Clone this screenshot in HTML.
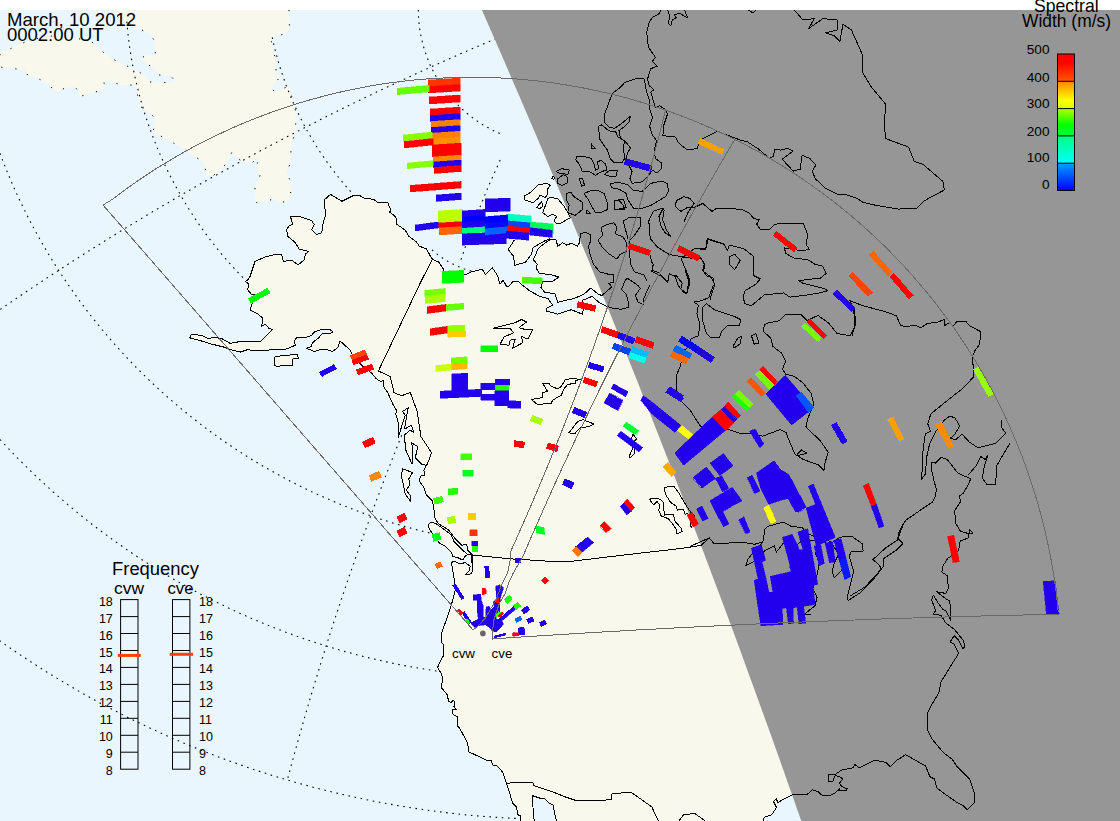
<!DOCTYPE html>
<html><head><meta charset="utf-8"><title>SuperDARN map</title>
<style>html,body{margin:0;padding:0;background:#fff;}body{width:1120px;height:821px;overflow:hidden;position:relative;font-family:"Liberation Sans",sans-serif;}svg{position:absolute;left:0;top:0;display:block;}</style></head><body>
<svg width="1120" height="821" viewBox="0 0 1120 821" style="font-family:&quot;Liberation Sans&quot;,sans-serif">
<rect x="0" y="10" width="1120" height="811" fill="#eaf6fd"/>
<polygon points="0.0,52.0 10.0,49.0 18.0,45.0 30.0,40.0 50.0,36.0 90.0,40.0 100.0,50.0 112.5,59.0 125.0,65.0 137.5,71.0 145.0,76.0 150.0,82.0 156.0,82.5 170.0,82.5 175.0,81.0 170.0,75.0 159.0,75.0 152.5,67.5 145.0,62.5 141.0,58.0 147.5,55.0 155.0,55.0 155.6,50.0 154.0,40.0 150.0,34.0 136.0,27.0 120.0,19.0 111.0,10.0 289.0,10.0 289.5,29.0 285.0,34.0 276.0,36.0 271.0,40.0 274.0,52.7 276.0,63.0 276.0,73.0 281.0,75.0 277.6,80.0 271.0,88.0 276.0,93.0 284.0,88.0 289.0,86.6 290.0,91.6 294.0,103.0 295.0,106.0 296.0,120.0 295.0,132.6 291.4,145.0 290.0,164.0 286.4,172.8 290.0,180.0 291.4,189.0 291.6,190.0 290.0,194.0 289.0,201.0 280.0,202.5 275.0,199.0 265.0,201.0 256.5,202.5 255.0,198.0 255.0,185.0 259.0,180.0 260.0,175.0 256.0,166.5 260.0,157.5 255.0,160.0 252.5,162.5 242.5,161.5 236.0,157.5 234.0,155.0 232.5,151.0 230.0,156.0 227.5,162.5 217.5,172.5 212.5,176.0 206.0,175.0 205.0,166.0 202.5,161.5 192.5,155.0 184.0,149.0 170.0,141.0 159.0,135.0 152.5,134.0 154.0,127.5 155.0,122.5 154.0,117.0 146.0,110.0 139.0,105.6 140.0,102.5 137.5,95.0 137.5,90.0 134.0,85.0 121.0,85.0 110.0,81.0 104.0,82.5 105.0,87.5 100.0,91.0 95.0,92.0 85.0,95.0 78.0,97.0 79.0,92.0 75.0,87.0 65.0,88.0 57.0,92.0 52.0,88.0 45.0,82.0 37.0,78.0 28.0,76.0 25.0,70.0 0.0,67.0" fill="#f8f8ec"/>
<polyline points="289.0,10.0 289.5,29.0 285.0,34.0 276.0,36.0 271.0,40.0 274.0,52.7 276.0,63.0 276.0,73.0 281.0,75.0 277.6,80.0 271.0,88.0 276.0,93.0 284.0,88.0 289.0,86.6 290.0,91.6 294.0,103.0 295.0,106.0 296.0,120.0 295.0,132.6 291.4,145.0 290.0,164.0 286.4,172.8 290.0,180.0 291.4,189.0 291.6,190.0 290.0,194.0 289.0,201.0 280.0,202.5 275.0,199.0 265.0,201.0 256.5,202.5 255.0,198.0 255.0,185.0 259.0,180.0 260.0,175.0 256.0,166.5 260.0,157.5 255.0,160.0 252.5,162.5 242.5,161.5 236.0,157.5 234.0,155.0 232.5,151.0 230.0,156.0 227.5,162.5 217.5,172.5 212.5,176.0 206.0,175.0 205.0,166.0 202.5,161.5 192.5,155.0 184.0,149.0 170.0,141.0 159.0,135.0 152.5,134.0 154.0,127.5 155.0,122.5 154.0,117.0 146.0,110.0 139.0,105.6 140.0,102.5 137.5,95.0 137.5,90.0 134.0,85.0 121.0,85.0 110.0,81.0 104.0,82.5 105.0,87.5 100.0,91.0 95.0,92.0 85.0,95.0 78.0,97.0 79.0,92.0 75.0,87.0 65.0,88.0 57.0,92.0 52.0,88.0 45.0,82.0 37.0,78.0 28.0,76.0 25.0,70.0 0.0,67.0 0.0,52.0 10.0,49.0 18.0,45.0 30.0,40.0 50.0,36.0 90.0,40.0 100.0,50.0 112.5,59.0 125.0,65.0 137.5,71.0 145.0,76.0 150.0,82.0 156.0,82.5 170.0,82.5 175.0,81.0 170.0,75.0 159.0,75.0 152.5,67.5 145.0,62.5 141.0,58.0 147.5,55.0 155.0,55.0 155.6,50.0 154.0,40.0 150.0,34.0 136.0,27.0 120.0,19.0 111.0,10.0" fill="none" stroke="#000" stroke-width="1" stroke-dasharray="1.2,13"/>
<g fill="none" stroke="#000" stroke-width="1.1" stroke-dasharray="1.6,4.6">
<polyline points="126.8,21.6 127.3,26.6 127.7,31.5 128.3,36.5 128.9,41.4 129.5,46.4 130.3,51.3 131.0,56.2 131.9,61.1 132.8,66.0 133.7,70.9 134.8,75.8 135.8,80.6 137.0,85.5 138.2,90.3 139.4,95.1 140.7,99.9 142.1,104.7 143.5,109.5 145.0,114.3 146.5,119.0 148.1,123.7 149.8,128.4 151.5,133.1 153.2,137.7 155.1,142.4 156.9,147.0 158.9,151.6 160.8,156.1 162.9,160.7 165.0,165.2 167.1,169.7 169.3,174.2 171.6,178.6 173.9,183.0 176.3,187.4 178.7,191.8 181.1,196.1 183.7,200.4 186.2,204.6 188.8,208.9 191.5,213.1 194.2,217.2 197.0,221.4 199.8,225.5 202.7,229.6 205.6,233.6 208.6,237.6 211.6,241.6 214.7,245.5 217.8,249.4 220.9,253.2 224.1,257.0 227.4,260.8 230.7,264.5 234.0,268.2 237.4,271.9 240.8,275.5 244.3,279.1 247.8,282.6"/>
<polyline points="-0.1,153.3 3.6,162.8 7.4,172.3 11.3,181.6 15.4,190.9 19.7,200.2 24.1,209.3 28.7,218.4 33.4,227.4 38.2,236.3 43.3,245.2 48.4,253.9 53.7,262.6 59.2,271.2 64.8,279.7 70.5,288.1 76.4,296.4 82.4,304.6 88.5,312.7 94.8,320.7 101.2,328.6 107.8,336.4 114.4,344.0 121.3,351.6 128.2,359.0 135.2,366.4 142.4,373.6 149.7,380.7 157.1,387.6 164.6,394.5 172.3,401.2 180.0,407.8 187.9,414.2 195.8,420.5 203.9,426.7 212.1,432.8 220.3,438.7 228.7,444.5 237.2,450.1 245.7,455.6 254.4,461.0 263.1,466.2 271.9,471.2 280.8,476.1 289.8,480.9 298.9,485.5 308.0,490.0 317.2,494.3 326.5,498.4 335.9,502.4 345.3,506.3 354.7,509.9 364.3,513.5 373.9,516.8 383.5,520.0 393.2,523.1 403.0,525.9 412.8,528.7 422.6,531.2 432.5,533.6"/>
<polyline points="0.3,309.4 8.2,304.0 16.1,298.6 24.1,293.2 32.0,287.9 40.0,282.6 48.0,277.3 56.0,272.1 64.1,266.8 72.1,261.6 80.2,256.5 88.3,251.3 96.4,246.2 104.5,241.1 112.7,236.1 120.8,231.0 129.0,226.0 137.2,221.1 145.4,216.1 153.6,211.2 161.9,206.3 170.2,201.5 178.4,196.6 186.7,191.8 195.1,187.1 203.4,182.3 211.7,177.6 220.1,172.9 228.5,168.3 236.9,163.6 245.3,159.1 253.7,154.5 262.2,149.9 270.6,145.4 279.1,141.0 287.6,136.5 296.1,132.1 304.6,127.7 313.2,123.3 321.7,119.0 330.3,114.7 338.9,110.4 347.5,106.2 356.1,102.0 364.7,97.8 373.3,93.7 382.0,89.5 390.7,85.5 399.4,81.4 408.1,77.4 416.8,73.4 425.5,69.4 434.2,65.5 443.0,61.6 451.8,57.7 460.5,53.8 469.3,50.0 478.1,46.2 487.0,42.5 495.8,38.7"/>
<polyline points="-0.0,439.5 5.8,445.8 11.7,452.0 17.6,458.1 23.7,464.2 29.8,470.2 35.9,476.1 42.2,481.9 48.5,487.7 54.8,493.4 61.3,499.0 67.8,504.6 74.3,510.1 81.0,515.5 87.6,520.8 94.4,526.1 101.2,531.2 108.1,536.3 115.0,541.3 122.0,546.3 129.0,551.1 136.1,555.9 143.3,560.6 150.5,565.2 157.7,569.7 165.0,574.1 172.4,578.5 179.8,582.7 187.3,586.9 194.8,591.0 202.3,595.0 209.9,598.9 217.6,602.7 225.3,606.5 233.0,610.1 240.8,613.7 248.6,617.1 256.4,620.5 264.3,623.8 272.2,627.0 280.2,630.1 288.2,633.1 296.2,636.0 304.3,638.9 312.4,641.6 320.6,644.2 328.7,646.8 336.9,649.2 345.1,651.6 353.4,653.8 361.6,656.0 369.9,658.1 378.3,660.0 386.6,661.9 395.0,663.7 403.3,665.4 411.7,666.9 420.2,668.4 428.6,669.8 437.0,671.1"/>
<polyline points="-0.5,640.6 7.2,646.0 15.0,651.3 22.9,656.6 30.8,661.8 38.7,666.9 46.7,672.0 54.8,676.9 62.9,681.8 71.0,686.6 79.2,691.4 87.4,696.0 95.7,700.6 104.0,705.1 112.4,709.5 120.8,713.8 129.3,718.1 137.8,722.2 146.3,726.3 154.9,730.3 163.5,734.2 172.1,738.1 180.8,741.8 189.5,745.5 198.3,749.0 207.1,752.5 215.9,755.9 224.8,759.3 233.7,762.5 242.6,765.6 251.5,768.7 260.5,771.7 269.5,774.6 278.5,777.3 287.6,780.1 296.7,782.7 305.8,785.2 314.9,787.7 324.1,790.0 333.3,792.3 342.5,794.5 351.7,796.5 361.0,798.5 370.2,800.5 379.5,802.3 388.8,804.0 398.1,805.6 407.5,807.2 416.8,808.6 426.2,810.0 435.5,811.3 444.9,812.5 454.3,813.6 463.7,814.6 473.1,815.5 482.6,816.3 492.0,817.0 501.4,817.7 510.9,818.2 520.3,818.6"/>
<polyline points="401.7,435.3 399.4,441.0 397.1,446.7 394.9,452.4 392.6,458.1 390.4,463.9 388.2,469.6 385.9,475.3 383.7,481.1 381.6,486.8 379.4,492.6 377.2,498.3 375.1,504.1 372.9,509.8 370.8,515.6 368.7,521.4 366.6,527.1 364.5,532.9 362.4,538.7 360.3,544.5 358.3,550.3 356.2,556.1 354.2,561.9 352.2,567.7 350.1,573.5 348.1,579.3 346.2,585.1 344.2,590.9 342.2,596.7 340.3,602.6 338.3,608.4 336.4,614.2 334.5,620.1 332.6,625.9 330.7,631.8 328.8,637.6 327.0,643.5 325.1,649.3 323.3,655.2 321.5,661.1 319.7,666.9 317.9,672.8 316.1,678.7 314.3,684.6 312.5,690.5 310.8,696.4 309.0,702.3 307.3,708.2 305.6,714.1 303.9,720.0 302.2,725.9 300.5,731.8 298.9,737.7 297.2,743.6 295.6,749.5 293.9,755.5 292.3,761.4 290.7,767.3 289.1,773.3 287.5,779.2"/>
<polyline points="272.2,37.3 272.9,40.3 273.5,43.2 274.2,46.2 274.9,49.1 275.7,52.0 276.5,55.0 277.3,57.9 278.1,60.8 278.9,63.7 279.8,66.6 280.7,69.5 281.7,72.3 282.6,75.2 283.6,78.1 284.6,80.9 285.6,83.7 286.7,86.6 287.8,89.4 288.9,92.2 290.0,95.0 291.2,97.8 292.4,100.6 293.6,103.3 294.8,106.1 296.1,108.8 297.4,111.6 298.7,114.3 300.0,117.0 301.4,119.7 302.7,122.4 304.1,125.1 305.6,127.7 307.0,130.4 308.5,133.0 310.0,135.6 311.5,138.2 313.1,140.8 314.7,143.4 316.3,146.0 317.9,148.5 319.5,151.1 321.2,153.6 322.9,156.1 324.6,158.6 326.3,161.1 328.1,163.5 329.8,166.0 331.6,168.4 333.5,170.8 335.3,173.2 337.2,175.6 339.0,178.0 340.9,180.3 342.9,182.6 344.8,184.9 346.8,187.2 348.8,189.5 350.8,191.8 352.8,194.0"/>
<polyline points="418.3,10.0 418.3,12.6 418.4,15.3 418.6,17.9 418.8,20.6 419.0,23.2 419.3,25.9 419.6,28.5 420.0,31.1 420.5,33.7 421.0,36.3 421.6,38.9 422.2,41.5 422.8,44.1 423.5,46.6 424.3,49.2 425.1,51.7 425.9,54.2 426.8,56.7 427.8,59.2 428.8,61.7 429.8,64.1 430.9,66.5 432.1,68.9 433.3,71.3 434.5,73.6 435.8,75.9 437.1,78.2 438.5,80.5 439.9,82.8 441.4,85.0 442.9,87.2 444.4,89.3 446.0,91.4 447.6,93.5 449.3,95.6 451.0,97.6 452.7,99.6 454.5,101.6 456.4,103.5 458.2,105.4 460.1,107.2 462.1,109.0 464.0,110.8 466.0,112.6 468.1,114.3 470.1,115.9 472.2,117.5 474.4,119.1 476.5,120.6 478.7,122.1 481.0,123.6 483.2,125.0 485.5,126.3 487.8,127.6 490.1,128.9 492.5,130.1 494.9,131.3 497.3,132.4 499.7,133.5"/>
<polyline points="500.2,160.1 499.4,161.8 498.6,163.5 497.9,165.2 497.1,166.9 496.3,168.6 495.5,170.3 494.8,172.0 494.0,173.7 493.2,175.5 492.5,177.2 491.7,178.9 491.0,180.6 490.2,182.3 489.5,184.0 488.8,185.8 488.0,187.5 487.3,189.2 486.6,190.9 485.9,192.7 485.1,194.4 484.4,196.1 483.7,197.9 483.0,199.6 482.3,201.3 481.6,203.1 480.9,204.8 480.2,206.6 479.5,208.3 478.8,210.0 478.2,211.8 477.5,213.5 476.8,215.3 476.1,217.0 475.5,218.8 474.8,220.5 474.1,222.3 473.5,224.0 472.8,225.8 472.2,227.6 471.5,229.3 470.9,231.1 470.3,232.8 469.6,234.6 469.0,236.4 468.4,238.1 467.7,239.9 467.1,241.7 466.5,243.4 465.9,245.2 465.3,247.0 464.7,248.8 464.1,250.5 463.5,252.3 462.9,254.1 462.3,255.9 461.7,257.6 461.1,259.4 460.6,261.2 460.0,263.0"/>
<polyline points="432.0,249.9 432.7,250.5 433.4,251.1 434.1,251.7 434.8,252.3 435.5,252.9 436.2,253.4 436.9,254.0 437.7,254.6 438.4,255.1 439.2,255.6 439.9,256.2 440.7,256.7 441.4,257.2 442.2,257.8 442.9,258.3 443.7,258.8 444.5,259.3 445.3,259.8 446.1,260.2 446.8,260.7 447.6,261.2 448.4,261.6 449.2,262.1 450.0,262.5 450.9,263.0 451.7,263.4 452.5,263.8 453.3,264.2 454.1,264.6 455.0,265.0 455.8,265.4 456.6,265.8 457.5,266.2 458.3,266.6 459.2,266.9 460.0,267.3 460.9,267.6 461.7,267.9 462.6,268.3 463.5,268.6 464.3,268.9 465.2,269.2 466.1,269.5 466.9,269.8 467.8,270.1 468.7,270.3 469.6,270.6 470.5,270.9 471.4,271.1 472.2,271.4 473.1,271.6 474.0,271.8 474.9,272.0 475.8,272.2 476.7,272.4 477.6,272.6 478.5,272.8 479.4,273.0 480.3,273.1"/>
</g>
<g fill="#f8f8ec" stroke="none">
<polygon points="650.0,285.6 647.1,290.5 643.1,300.4 643.1,304.3 638.2,302.3 635.3,295.5 640.2,288.6 638.2,285.6 627.4,278.3 625.5,279.7 621.5,289.6 626.4,294.5 628.4,302.3 628.4,307.2 621.5,309.2 614.7,308.7 606.8,306.3 598.9,302.3 592.1,296.4 582.2,300.4 583.2,310.2 582.2,314.1 571.4,309.7 557.7,314.1 546.9,311.2 546.9,308.2 552.8,305.3 547.9,298.4 540.0,296.4 530.3,291.3 521.8,284.6 518.5,281.8 513.0,281.3 508.6,286.8 506.4,286.2 503.2,280.2 499.9,284.0 497.7,275.8 492.2,267.6 485.6,274.7 482.3,269.2 471.4,272.0 463.7,275.3 444.0,271.4 442.9,268.2 438.5,261.6 436.6,261.6 431.6,258.4 426.6,249.0 419.0,246.0 416.6,242.0 409.0,236.5 405.3,230.2 396.5,224.0 395.9,217.0 389.6,212.0 390.9,210.0 387.7,202.6 377.7,202.6 374.0,199.5 364.0,198.0 360.0,195.7 353.2,195.7 342.0,201.3 330.5,194.4 324.2,200.0 325.5,215.0 323.0,224.0 321.7,232.7 316.7,234.5 311.7,230.0 314.2,224.5 311.7,220.7 299.0,216.3 290.3,216.3 292.8,224.0 289.0,225.8 286.6,230.0 287.8,236.4 295.4,242.7 299.0,249.0 309.0,251.5 305.4,254.0 304.0,260.0 298.0,265.0 291.6,260.0 283.4,261.5 281.6,254.6 275.0,254.6 265.0,257.0 255.0,261.5 250.0,276.6 247.7,280.0 245.2,281.3 248.4,283.8 247.8,290.0 251.5,294.4 255.3,295.0 251.5,305.0 250.3,310.0 257.8,313.9 262.8,318.3 261.6,326.4 265.3,324.0 269.0,328.3 272.2,329.6 260.3,341.5 250.3,342.0 240.2,341.5 230.2,343.4 221.4,338.3 215.1,337.7 207.6,338.3 201.3,335.2 191.3,334.6 189.4,337.7 198.8,340.2 211.4,344.0 223.9,347.1 232.7,350.3 240.2,352.1 247.8,349.6 255.3,350.9 265.3,350.9 270.3,349.6 286.6,349.0 295.4,345.2 294.2,340.9 296.7,337.7 305.5,337.7 311.7,335.2 314.3,332.0 320.0,330.0 322.5,329.6 330.0,329.6 333.2,332.0 328.8,334.0 322.5,333.3 318.8,337.7 312.5,342.7 311.1,346.5 306.7,348.4 314.3,351.5 317.5,350.3 325.0,349.0 332.6,351.5 337.6,347.8 340.1,340.9 347.6,347.8 350.2,350.3 352.7,355.3 358.0,362.0 365.0,368.0 371.5,372.9 376.4,378.8 380.1,381.3 383.9,380.7 383.3,386.3 387.7,392.6 392.7,403.9 396.5,410.2 395.8,413.9 398.3,422.7 398.3,437.8 402.7,422.7 405.2,415.2 402.7,411.4 408.4,407.6 406.5,416.4 404.6,429.0 411.5,425.2 414.0,432.7 410.3,430.2 404.0,435.2 404.6,439.0 405.9,450.3 412.1,464.1 412.8,447.8 411.5,442.8 417.8,446.5 415.3,457.8 421.6,464.1 426.6,465.4 428.9,460.0 426.4,465.0 423.9,470.0 424.5,475.1 420.2,476.3 419.5,481.3 423.9,487.6 426.4,495.1 432.7,501.4 434.0,510.2 435.2,519.0 439.0,524.0 449.0,530.3 455.3,539.0 461.6,545.3 466.6,544.0 467.8,550.3 470.3,552.8 472.8,555.4 472.1,563.8 472.8,568.9 471.5,573.9 465.2,574.5 469.0,571.4 470.3,566.3 465.2,562.6 460.2,563.8 454.0,561.3 451.4,562.6 452.7,570.0 454.0,577.6 455.2,590.2 452.7,600.2 448.9,612.8 443.9,626.6 441.4,634.1 442.0,643.0 443.9,645.0 443.9,655.1 440.2,661.3 437.6,667.6 441.4,673.9 442.7,677.6 441.4,687.7 447.7,695.2 448.3,701.5 451.4,702.7 452.7,700.2 454.6,701.5 454.0,706.5 456.5,709.6 452.7,709.0 452.7,714.0 457.7,717.2 457.1,725.3 460.2,729.1 467.6,743.1 468.9,751.9 487.7,760.7 491.4,760.7 492.7,765.0 496.5,765.7 502.7,772.0 506.5,783.2 512.8,803.3 516.5,807.1 517.8,814.6 520.3,815.9 520.3,821.0 534.7,821.0 533.5,817.1 532.8,803.3 532.8,795.8 540.4,798.3 544.1,798.3 549.2,803.3 552.9,804.6 555.4,817.1 556.7,821.0 763.0,821.0 764.4,817.2 771.7,814.8 776.5,807.5 773.5,801.4 776.5,799.0 777.8,802.6 783.8,799.0 792.4,794.7 796.0,794.0 807.6,794.0 812.5,789.8 818.0,791.6 822.8,795.9 828.9,795.9 835.0,792.9 840.0,788.6 900.0,821.0 900.0,300.0 620.0,300.0"/>
<polygon points="274.1,357.2 282.9,355.3 297.3,354.7 298.6,358.4 292.9,359.0 292.3,365.3 282.9,365.3 277.9,366.6 274.1,365.3"/>
<polygon points="402.6,468.8 412.6,472.5 408.9,478.8 409.5,485.0 406.3,490.1 410.1,495.1 410.7,501.4 405.1,493.9 403.8,486.3 401.3,476.3"/>
<polygon points="428.9,524.0 431.4,522.1 436.5,524.0 447.8,532.1 451.5,535.3 454.0,541.6 462.8,550.3 467.8,554.4 465.2,556.3 462.7,560.0 457.7,557.6 452.7,556.3 451.4,552.5 445.2,546.3 439.5,543.1 435.2,537.8 430.2,530.3 428.3,526.5"/>
<polygon points="524.0,196.4 530.3,192.6 537.8,185.1 546.6,183.2 550.3,185.1 547.8,188.9 547.8,193.9 545.3,197.6 540.3,195.1 537.8,198.9 532.8,202.7 525.2,200.2"/>
<polygon points="536.5,207.7 541.6,201.4 542.8,206.4 540.3,208.3"/>
<polygon points="542.8,212.7 547.8,198.9 550.3,197.0 557.9,198.9 564.1,206.4 567.9,212.7 570.4,217.7 559.1,224.0 555.4,222.7 554.1,220.2 556.6,216.5 552.8,214.0 547.8,216.5"/>
<polygon points="514.6,239.7 508.2,249.6 513.6,256.4 514.6,265.3 525.4,262.3 531.3,254.5 533.2,247.6 545.0,240.7 549.9,238.8 545.0,234.0 520.0,234.0"/>
<polygon points="549.9,239.7 555.8,239.7 557.8,246.1 562.7,242.7 566.6,245.1 571.5,243.2 577.4,246.1 579.4,242.7 610.0,250.0 620.0,265.0 613.7,274.8 613.2,282.2 608.8,283.2 611.7,286.6 608.8,289.6 601.9,295.5 598.9,294.5 590.6,288.1 584.2,294.0 574.4,298.4 565.5,300.4 557.7,302.3 554.7,293.5 544.9,292.5 541.0,287.6 543.0,281.0 552.9,281.0 558.8,277.1 552.9,275.1 539.1,273.1 536.2,268.2 537.2,264.3 533.2,259.4 536.2,253.5 538.1,248.6 543.0,244.6"/>
</g>
<polygon points="481.9,10.0 491.0,30.8 500.1,51.6 509.1,72.4 518.1,93.2 527.0,114.0 535.9,134.8 544.7,155.6 553.5,176.4 562.2,197.2 570.9,217.9 579.5,238.7 588.1,259.5 596.6,280.3 605.1,301.1 613.5,321.9 621.9,342.7 630.2,363.5 638.5,384.3 646.7,405.1 654.9,425.9 663.0,446.7 671.1,467.5 679.1,488.3 687.1,509.1 695.1,529.9 703.0,550.7 710.8,571.5 718.6,592.3 726.4,613.1 734.1,633.8 741.7,654.6 749.3,675.4 756.9,696.2 764.4,717.0 771.9,737.8 779.3,758.6 786.7,779.4 794.0,800.2 801.3,821.0 1120.0,821.0 1120.0,10.0" fill="#969696"/>
<g fill="none" stroke="#000" stroke-width="1" stroke-linejoin="round" shape-rendering="crispEdges">
<polyline points="650.0,285.6 647.1,290.5 643.1,300.4 643.1,304.3 638.2,302.3 635.3,295.5 640.2,288.6 638.2,285.6 627.4,278.3 625.5,279.7 621.5,289.6 626.4,294.5 628.4,302.3 628.4,307.2 621.5,309.2 614.7,308.7 606.8,306.3 598.9,302.3 592.1,296.4 582.2,300.4 583.2,310.2 582.2,314.1 571.4,309.7 557.7,314.1 546.9,311.2 546.9,308.2 552.8,305.3 547.9,298.4 540.0,296.4 530.3,291.3 521.8,284.6 518.5,281.8 513.0,281.3 508.6,286.8 506.4,286.2 503.2,280.2 499.9,284.0 497.7,275.8 492.2,267.6 485.6,274.7 482.3,269.2 471.4,272.0 463.7,275.3 444.0,271.4 442.9,268.2 438.5,261.6 436.6,261.6 431.6,258.4 426.6,249.0 419.0,246.0 416.6,242.0 409.0,236.5 405.3,230.2 396.5,224.0 395.9,217.0 389.6,212.0 390.9,210.0 387.7,202.6 377.7,202.6 374.0,199.5 364.0,198.0 360.0,195.7 353.2,195.7 342.0,201.3 330.5,194.4 324.2,200.0 325.5,215.0 323.0,224.0 321.7,232.7 316.7,234.5 311.7,230.0 314.2,224.5 311.7,220.7 299.0,216.3 290.3,216.3 292.8,224.0 289.0,225.8 286.6,230.0 287.8,236.4 295.4,242.7 299.0,249.0 309.0,251.5 305.4,254.0 304.0,260.0 298.0,265.0 291.6,260.0 283.4,261.5 281.6,254.6 275.0,254.6 265.0,257.0 255.0,261.5 250.0,276.6 247.7,280.0 245.2,281.3 248.4,283.8 247.8,290.0 251.5,294.4 255.3,295.0 251.5,305.0 250.3,310.0 257.8,313.9 262.8,318.3 261.6,326.4 265.3,324.0 269.0,328.3 272.2,329.6 260.3,341.5 250.3,342.0 240.2,341.5 230.2,343.4 221.4,338.3 215.1,337.7 207.6,338.3 201.3,335.2 191.3,334.6 189.4,337.7 198.8,340.2 211.4,344.0 223.9,347.1 232.7,350.3 240.2,352.1 247.8,349.6 255.3,350.9 265.3,350.9 270.3,349.6 286.6,349.0 295.4,345.2 294.2,340.9 296.7,337.7 305.5,337.7 311.7,335.2 314.3,332.0 320.0,330.0 322.5,329.6 330.0,329.6 333.2,332.0 328.8,334.0 322.5,333.3 318.8,337.7 312.5,342.7 311.1,346.5 306.7,348.4 314.3,351.5 317.5,350.3 325.0,349.0 332.6,351.5 337.6,347.8 340.1,340.9 347.6,347.8 350.2,350.3 352.7,355.3 358.0,362.0 365.0,368.0 371.5,372.9 376.4,378.8 380.1,381.3 383.9,380.7 383.3,386.3 387.7,392.6 392.7,403.9 396.5,410.2 395.8,413.9 398.3,422.7 398.3,437.8 402.7,422.7 405.2,415.2 402.7,411.4 408.4,407.6 406.5,416.4 404.6,429.0 411.5,425.2 414.0,432.7 410.3,430.2 404.0,435.2 404.6,439.0 405.9,450.3 412.1,464.1 412.8,447.8 411.5,442.8 417.8,446.5 415.3,457.8 421.6,464.1 426.6,465.4 428.9,460.0 426.4,465.0 423.9,470.0 424.5,475.1 420.2,476.3 419.5,481.3 423.9,487.6 426.4,495.1 432.7,501.4 434.0,510.2 435.2,519.0 439.0,524.0 449.0,530.3 455.3,539.0 461.6,545.3 466.6,544.0 467.8,550.3 470.3,552.8 472.8,555.4 472.1,563.8 472.8,568.9 471.5,573.9 465.2,574.5 469.0,571.4 470.3,566.3 465.2,562.6 460.2,563.8 454.0,561.3 451.4,562.6 452.7,570.0 454.0,577.6 455.2,590.2 452.7,600.2 448.9,612.8 443.9,626.6 441.4,634.1 442.0,643.0 443.9,645.0 443.9,655.1 440.2,661.3 437.6,667.6 441.4,673.9 442.7,677.6 441.4,687.7 447.7,695.2 448.3,701.5 451.4,702.7 452.7,700.2 454.6,701.5 454.0,706.5 456.5,709.6 452.7,709.0 452.7,714.0 457.7,717.2 457.1,725.3 460.2,729.1 467.6,743.1 468.9,751.9 487.7,760.7 491.4,760.7 492.7,765.0 496.5,765.7 502.7,772.0 506.5,783.2 512.8,803.3 516.5,807.1 517.8,814.6 520.3,815.9 520.3,821.0"/>
<polyline points="534.7,821.0 533.5,817.1 532.8,803.3 532.8,795.8 540.4,798.3 544.1,798.3 549.2,803.3 552.9,804.6 555.4,817.1 556.7,821.0"/>
<polyline points="763.0,821.0 764.4,817.2 771.7,814.8 776.5,807.5 773.5,801.4 776.5,799.0 777.8,802.6 783.8,799.0 792.4,794.7 796.0,794.0 807.6,794.0 812.5,789.8 818.0,791.6 822.8,795.9 828.9,795.9 835.0,792.9 840.0,788.6"/>
<polygon points="274.1,357.2 282.9,355.3 297.3,354.7 298.6,358.4 292.9,359.0 292.3,365.3 282.9,365.3 277.9,366.6 274.1,365.3"/>
<polygon points="402.6,468.8 412.6,472.5 408.9,478.8 409.5,485.0 406.3,490.1 410.1,495.1 410.7,501.4 405.1,493.9 403.8,486.3 401.3,476.3"/>
<polygon points="428.9,524.0 431.4,522.1 436.5,524.0 447.8,532.1 451.5,535.3 454.0,541.6 462.8,550.3 467.8,554.4 465.2,556.3 462.7,560.0 457.7,557.6 452.7,556.3 451.4,552.5 445.2,546.3 439.5,543.1 435.2,537.8 430.2,530.3 428.3,526.5"/>
<polygon points="524.0,196.4 530.3,192.6 537.8,185.1 546.6,183.2 550.3,185.1 547.8,188.9 547.8,193.9 545.3,197.6 540.3,195.1 537.8,198.9 532.8,202.7 525.2,200.2"/>
<polygon points="536.5,207.7 541.6,201.4 542.8,206.4 540.3,208.3"/>
<polygon points="493.2,328.3 515.2,322.6 521.5,319.5 526.5,322.0 519.0,327.7 525.2,329.5 532.8,329.5 527.8,339.0 521.5,336.4 522.7,342.7 512.7,348.4 515.2,339.0 510.2,340.2 508.9,345.2 500.2,344.0 503.9,337.0 514.0,332.7 510.2,328.9"/>
<polygon points="531.3,399.5 537.5,404.5 551.3,403.3 552.6,400.2 561.4,395.1 563.9,388.9 567.6,384.5 575.2,383.2 575.8,380.7 580.2,379.4 571.4,378.2 565.1,380.1 561.4,386.3 557.6,388.9 551.3,386.3 548.8,383.2 542.5,383.2 547.6,391.4 542.5,392.6 542.5,397.6"/>
<polygon points="568.9,432.8 572.7,427.8 577.7,421.5 582.7,419.6 594.0,424.0 589.0,426.5 580.2,427.8 576.4,431.5 575.2,434.0"/>
<polygon points="632.9,434.0 636.6,439.0 634.1,441.6 634.1,454.1 630.4,457.9 629.1,456.6 632.9,447.8 630.4,441.6"/>
<polygon points="664.7,487.9 668.1,486.6 674.1,486.6 678.4,492.2 684.3,502.4 688.6,509.2 691.2,512.6 694.6,515.2 693.7,521.2 691.2,528.0 690.3,521.2 687.7,513.5 685.2,514.3 683.5,509.2 677.5,510.1 675.8,505.8 670.7,502.4 665.6,494.7 664.3,489.6"/>
<polygon points="649.4,499.4 652.8,498.1 657.9,498.1 663.0,501.5 663.4,507.5 664.7,515.2 668.1,514.3 673.2,514.3 675.0,521.2 680.9,528.0 682.2,531.4 676.7,533.9 676.7,529.7 672.4,523.7 668.1,518.6 661.3,516.0 658.8,510.9 659.6,505.0 657.0,501.5 653.6,505.0"/>
<polyline points="542.8,212.7 547.8,198.9 550.3,197.0 557.9,198.9 564.1,206.4 567.9,212.7 570.4,217.7 559.1,224.0 555.4,222.7 554.1,220.2 556.6,216.5 552.8,214.0 547.8,216.5 542.8,212.7"/>
<polyline points="514.6,239.7 508.2,249.6 513.6,256.4 514.6,265.3 525.4,262.3 531.3,254.5 533.2,247.6 545.0,240.7 549.9,238.8"/>
<polyline points="432.3,259.7 421.7,280.0 378.4,371.0 390.3,376.6 394.0,392.6 401.5,395.7 410.3,392.6 417.2,411.4 420.9,436.5 431.6,452.8 427.8,462.8 426.6,465.4"/>
<polyline points="467.8,554.4 472.8,555.0 509.2,558.8 521.7,559.4 544.8,561.0 574.0,561.0 622.3,555.2 680.0,548.6 701.0,545.4 710.0,537.3"/>
<polyline points="472.8,555.4 471.5,555.1 472.1,563.8 472.8,568.9 471.5,573.9 465.2,574.5"/>
<polyline points="506.5,783.2 516.5,782.6 532.8,782.6 534.1,785.8 552.9,792.0 565.5,797.0 576.0,800.5 600.3,800.5 611.6,799.6 611.6,794.0 630.3,792.1 635.0,794.9 651.9,807.0 655.6,815.5 658.4,821.0"/>
<polyline points="679.0,821.0 683.8,814.6 695.0,813.6 705.3,821.0"/>
<polyline points="549.9,239.7 555.8,239.7 557.8,246.1 562.7,242.7 566.6,245.1 571.5,243.2 577.4,246.1 579.4,242.7"/>
<polyline points="613.7,274.8 613.2,282.2 608.8,283.2 611.7,286.6 608.8,289.6 601.9,295.5 598.9,294.5 590.6,288.1 584.2,294.0 574.4,298.4 565.5,300.4 557.7,302.3 554.7,293.5 544.9,292.5 541.0,287.6 543.0,281.0 552.9,281.0 558.8,277.1 552.9,275.1 539.1,273.1 536.2,268.2 537.2,264.3 533.2,259.4 536.2,253.5 538.1,248.6 543.0,244.6 549.9,239.7"/>
<polyline points="661.2,10.0 658.8,14.0 652.3,17.2 649.1,22.9 646.7,32.5 648.3,47.0 655.5,57.4 652.3,61.4 657.1,66.3 650.7,68.7 647.5,79.1 649.1,85.5 653.9,89.6 650.7,92.0 655.5,108.0 659.6,105.6 665.2,109.6 667.6,113.7 663.6,125.7 662.9,135.7 675.7,137.1 678.6,142.9 687.1,150.0 697.1,148.6 700.0,140.0 717.1,131.4 728.6,135.7 740.2,140.0 747.5,141.8 758.5,149.1 769.4,158.3 773.1,156.4 774.9,149.1 780.4,150.1 787.7,148.2 793.2,151.0 782.2,159.2 793.2,171.1 800.5,169.2 801.4,158.3 802.3,155.5 809.6,158.3 816.0,164.7 812.4,171.1 815.1,178.4 824.3,187.5 838.9,194.8 846.2,194.8 857.2,198.5 862.6,202.1 876.5,205.5 898.4,209.1 916.7,208.2 924.0,200.9 944.3,190.0 942.9,181.4 922.9,164.3 914.3,161.4 908.6,147.1 885.7,138.6 884.3,124.3 885.7,104.3 871.4,87.1 862.9,72.9 862.9,55.7 851.4,30.0 842.9,24.3 840.0,41.4 834.3,35.7 825.7,32.9 837.1,30.0 837.1,20.0 822.9,18.6 808.6,28.6 814.3,18.6 802.9,20.0 794.3,10.0"/>
<polyline points="667.6,10.0 670.0,16.4 668.4,22.9 670.8,26.1 672.4,19.6 676.4,18.0 674.0,14.8 679.6,13.2 687.7,18.0 684.5,10.0"/>
<polyline points="748.6,10.0 752.9,12.9 755.7,10.0"/>
<polyline points="612.1,93.6 618.6,88.8 625.0,82.3 634.6,79.1 641.1,78.3 644.3,79.1 645.9,88.8 647.5,95.2 649.6,100.0 649.6,108.8 652.5,117.5 649.6,126.3 652.5,135.1 656.9,140.9 654.0,149.7 655.4,158.4 661.3,162.8 661.3,168.7 656.9,173.1 652.5,170.1 648.1,176.0 642.3,181.8 632.1,183.3 629.9,178.9 632.1,171.6 630.6,168.7 628.0,163.0 626.2,158.4 627.7,152.6 630.6,148.2 626.2,142.4 620.4,138.0 618.9,130.7 624.7,126.3 629.1,121.9 630.6,116.1 621.8,123.4 614.5,128.5 608.7,127.0 604.3,121.9 604.3,114.6 607.2,107.3 612.1,93.6"/>
<polyline points="598.4,126.3 601.4,124.8 608.7,130.7 616.0,132.1 617.4,136.5 624.7,140.9 623.3,148.2 624.7,158.4 621.8,162.8 614.5,162.8 610.1,158.4 607.2,149.7 602.8,143.8 599.9,139.4 598.4,126.3"/>
<polyline points="591.1,143.8 595.5,148.2 591.1,148.2 591.1,143.8"/>
<polyline points="576.5,157.0 583.8,156.3 591.1,158.4 594.1,164.3 595.5,170.1 598.4,168.7 597.7,161.4 601.4,160.6 605.8,164.3 606.5,170.1 601.4,171.6 595.5,175.2 589.7,171.6 582.4,171.6 579.5,164.3 575.8,159.9 576.5,157.0"/>
<polyline points="604.3,174.5 610.1,170.1 617.4,170.1 616.0,176.0 608.7,176.0 604.3,174.5"/>
<polyline points="553.1,176.0 554.6,177.4 553.9,179.6 551.7,178.2 553.1,176.0"/>
<polyline points="556.1,171.6 561.9,168.7 569.2,170.1 567.8,174.5 559.0,173.1 556.1,171.6"/>
<polyline points="557.5,178.9 563.4,174.5 567.8,177.4 567.0,183.3 561.9,185.5 557.5,183.3 557.5,178.9"/>
<polyline points="579.5,178.9 582.4,178.2 584.6,185.5 581.6,186.2 579.5,178.9"/>
<polyline points="610.1,183.3 618.9,182.6 627.7,184.7 633.5,190.6 642.3,191.3 651.1,183.3 661.3,181.1 667.1,183.3 668.6,190.6 665.7,196.4 658.4,200.8 651.1,205.2 642.3,208.1 633.5,208.1 627.7,199.4 626.2,193.5 618.9,189.1 611.6,187.7 610.1,183.3"/>
<polyline points="566.3,193.5 570.7,192.0 573.6,196.4 582.4,202.3 582.4,209.6 575.1,215.4 567.8,212.5 569.2,205.2 566.3,199.4 566.3,193.5"/>
<polyline points="583.8,193.5 591.1,190.6 598.4,190.6 604.3,193.5 607.2,202.3 607.2,209.6 601.4,212.5 595.5,212.5 591.1,205.2 588.2,199.4 583.8,193.5"/>
<polyline points="614.5,200.8 618.9,200.1 623.3,205.2 624.7,209.6 614.5,209.6 614.5,200.8"/>
<polyline points="586.8,209.6 590.4,213.2 586.8,213.2 586.8,209.6"/>
<polyline points="675.1,206.3 676.5,200.5 683.8,196.8 689.7,198.3 694.1,203.4 691.1,207.8 686.8,207.8 680.9,211.4 675.1,206.3"/>
<polyline points="683.8,222.4 688.2,212.1 691.1,207.8 695.5,207.0 702.8,203.4 711.9,211.3 716.4,208.5 727.4,208.5 742.0,209.4 749.3,213.1 753.9,218.6 759.4,219.5 756.7,224.1 760.3,229.5 769.4,229.5 774.9,224.1 791.4,223.2 803.3,223.2 807.8,235.0 806.0,244.2 809.6,249.6 800.5,250.6 784.1,247.8 785.9,253.3 793.2,257.9 807.8,259.7 815.1,264.3 822.4,266.1 826.1,273.4 820.6,278.0 798.7,280.7 802.9,283.2 824.3,288.6 827.5,290.7 820.0,292.9 807.1,295.0 790.0,297.1 783.6,292.9 764.3,295.0 751.4,305.7 745.0,303.6 742.9,297.1 745.0,290.7 755.7,284.3 760.3,278.9 753.0,275.2 753.0,256.0 743.9,248.7 729.2,245.1 727.4,250.6 723.8,244.2 711.0,240.5 708.2,238.7 705.5,249.6 700.0,249.6"/>
<polyline points="729.2,257.0 734.7,254.2 740.2,260.6 734.7,269.8 729.2,264.3 729.2,257.0"/>
<polyline points="700.0,257.0 704.6,264.3 703.7,271.6 711.0,277.1 714.6,284.4 713.1,286.1 708.6,297.8 701.3,300.7 694.0,302.1 698.4,305.1 696.9,313.8 699.8,324.1 698.4,335.8 691.0,338.7 688.1,347.4 682.3,351.8 680.8,365.0 676.4,375.2 676.4,390.0 680.0,400.0 690.0,410.0 696.4,420.0 700.7,426.4 715.0,428.0 728.6,429.6 741.4,433.9 752.1,433.9 762.9,436.1 780.0,429.6 786.4,432.9 788.6,439.3 795.0,454.3 803.6,459.6 818.6,465.0 823.9,470.4 825.0,462.9 828.2,452.1 820.7,441.4 814.3,435.0 805.9,427.0 808.0,418.0 813.6,404.3"/>
<polyline points="663.4,207.8 653.2,211.4 648.8,220.9 650.2,238.4 657.5,247.2 669.2,254.5 678.0,256.0 690.0,258.0 701.4,258.9 704.3,263.3 702.8,270.6 707.2,276.4 713.1,277.9 714.5,285.2 711.6,294.0 710.1,300.0"/>
<polyline points="663.4,207.8 659.0,216.5 660.5,225.3 664.8,232.6 670.7,236.3 666.3,229.7 662.6,219.5 664.1,210.7 663.4,207.8"/>
<polyline points="640.0,247.2 648.8,250.1 651.7,261.8 653.2,264.7 651.7,271.3 661.9,276.4 667.8,282.3 669.2,273.5 675.1,276.4 678.0,285.2 683.8,292.5 686.8,294.0 688.2,285.2 689.7,279.4 682.4,261.8 680.9,258.9 694.1,248.7 705.8,248.7 707.2,238.4 716.0,241.4 724.7,244.3"/>
<polyline points="579.4,242.7 580.6,233.8 585.3,232.2 590.1,234.6 590.9,240.1 588.5,246.5 590.1,254.4 593.2,263.9 599.6,271.8 610.6,274.9 613.7,274.8"/>
<polyline points="598.0,240.1 602.7,235.4 601.1,227.5 607.5,224.3 613.8,222.7 617.0,227.5 615.4,233.8 623.3,237.0 626.5,243.3 626.5,251.2 620.1,254.4 617.0,259.1 607.5,252.8 602.7,248.0 598.0,240.1"/>
<polyline points="623.3,221.1 629.6,217.2 640.7,217.2 640.7,225.9 634.4,235.4 629.6,240.1 629.6,251.2 630.4,263.9 634.4,271.8 643.9,274.9 647.0,281.3"/>
<polyline points="623.3,221.1 624.9,227.5 628.0,238.5"/>
<polyline points="651.6,270.0 658.9,272.9 667.7,281.7 669.1,274.4 676.4,275.8 682.3,283.2 680.8,289.0 686.7,293.4 689.6,284.6 688.1,278.8 685.2,270.0"/>
<polyline points="616.0,200.5 623.4,199.0 626.3,207.8 617.5,209.2"/>
<polyline points="702.1,307.9 706.4,303.6 715.0,310.0 734.3,316.4 740.7,319.6 739.6,325.0 727.9,325.0 721.4,331.4 719.3,337.9 710.7,337.9 706.4,333.6 702.1,318.6 702.1,307.9"/>
<polyline points="733.0,346.0 738.0,338.0 741.5,336.5 740.0,344.0 734.0,348.0 733.0,346.0"/>
<polyline points="751.4,335.7 756.0,333.6 758.9,343.0 754.3,344.3 751.4,335.7"/>
<polyline points="813.6,404.3 811.4,393.6 802.9,382.9 794.3,376.4 785.7,374.3 782.5,368.9 785.7,361.4 781.4,352.9 772.9,346.4 770.7,337.9 763.2,331.4 764.3,325.0 768.6,322.9 779.3,320.7 785.7,314.3 800.7,314.3 807.1,320.7 817.9,315.4 828.6,322.9 837.1,333.6 850.0,335.7 854.3,327.1 854.3,314.3 850.0,301.4 854.6,309.6 855.5,324.2 851.9,336.1"/>
<polyline points="849.1,300.5 863.7,305.9 887.5,312.3 896.6,316.0 900.3,325.1 905.8,326.9 914.9,325.1 920.4,327.9 927.7,323.3 936.8,322.4 944.1,319.6 944.1,326.0 949.6,322.4 953.2,326.0 956.9,321.5 966.0,321.5 969.7,326.0 980.6,331.5 979.7,344.3 975.2,350.0 972.7,356.1 973.5,377.0 963.0,388.2 948.6,399.5 930.9,413.9 927.7,423.6 930.5,431.0 925.3,433.9 923.1,449.2 922.4,463.9 921.7,479.2 925.3,474.1 926.8,456.6 929.7,443.4 935.6,431.7 944.3,420.0 950.0,416.0 955.0,418.0 959.7,425.8 954.6,434.6 950.2,438.3 956.0,439.7 961.9,433.9 969.2,441.9 978.0,447.8 995.5,443.4 1005.8,433.2 1001.4,427.3 1001.4,420.0"/>
<polyline points="931.2,462.4 935.6,463.1 941.4,457.3 947.3,459.5 957.5,472.6 964.8,476.3 970.7,478.5 969.2,482.9 963.4,493.1 959.7,496.0 960.4,501.9 954.6,510.7 956.0,523.8 960.4,531.1 969.6,534.0 972.8,533.2 969.6,529.3 968.1,538.0 960.1,541.2 958.6,550.6 947.5,558.6 942.7,566.5 941.9,572.0 947.5,576.0 948.3,588.6 945.9,593.4 936.4,591.8 945.9,598.9 949.9,601.3 950.6,620.3 945.9,610.8 942.7,609.2 938.0,602.9 933.2,595.0 931.7,599.7 935.6,610.8 933.2,614.0 941.2,615.5 945.7,622.9 954.3,629.3 962.9,640.0 965.0,646.4 962.9,648.6 958.6,640.0 954.3,635.7 950.0,642.1 954.3,644.3 958.6,652.9 956.4,657.1 952.1,663.6 945.7,674.3 941.0,681.9 938.8,692.9 932.2,703.9 927.7,712.8 927.7,730.4 932.2,739.2 943.2,752.5 952.0,759.1 956.4,765.7 969.6,778.9 974.0,792.2 974.0,803.2 967.4,809.8 963.0,805.4 956.4,802.1 945.4,794.4 936.6,787.7 934.4,778.9 929.9,776.7 925.5,765.7 921.1,763.5 905.7,754.7 896.9,760.2 890.3,766.8 885.8,762.4 874.8,760.2 859.4,767.9 855.0,764.6 852.8,767.9 841.7,770.1 835.1,774.5 828.5,774.5 828.5,781.1 832.9,781.1 835.1,775.6 839.5,776.7 842.8,778.9 839.5,783.3 841.7,786.6 847.3,788.8 846.2,791.0 838.4,790.0 840.0,788.6"/>
<polyline points="967.7,475.6 976.5,465.3 980.9,456.6 985.3,459.5 987.5,455.8 983.8,468.3 982.4,478.5 986.8,484.3 995.5,484.3 997.0,465.3 1002.8,455.1 1010.0,443.4"/>
<polyline points="931.2,462.4 931.9,471.2 934.1,481.4 936.3,488.7 935.6,496.0 932.6,501.9 923.9,507.7 904.9,520.9 900.5,531.1 897.5,540.0 898.6,532.9 898.6,539.3"/>
<polyline points="797.1,454.3 801.4,450.0 806.8,453.2 798.2,455.4 797.1,454.3"/>
<polyline points="762.9,542.1 754.3,550.7 747.9,559.3 745.7,565.7 754.3,561.4 765.7,550.0 774.3,545.7 776.4,552.1 782.9,543.6 795.7,545.7 804.3,539.3 815.0,541.0 825.7,543.0 832.1,543.6"/>
<polyline points="762.9,542.1 765.0,529.3 767.9,526.4 782.9,522.1 791.4,526.4 802.1,527.5 806.4,532.9 815.0,537.1 825.7,539.3 832.1,542.5 840.7,537.1 851.4,536.1 862.1,543.6 863.2,551.1 851.4,551.1 849.3,556.4 853.6,571.4 851.4,580.0 849.3,588.6 847.1,597.1 848.2,600.4 860.0,592.9 872.9,580.0 881.4,569.3 879.3,565.0 872.9,559.6 885.7,547.9 898.6,539.3 902.9,543.6 896.4,550.0 883.6,558.6 884.0,566.0 877.0,574.0 865.0,587.0 850.0,596.0"/>
<polyline points="832.1,543.6 838.6,554.3 834.3,562.9 832.1,571.4 834.3,577.9 840.7,571.4 845.0,565.0"/>
<polyline points="815.0,552.1 819.3,562.9 817.1,575.0 812.9,588.6 817.1,597.1 815.0,605.7 804.3,614.3 810.7,614.3"/>
<polyline points="690.0,546.4 709.3,537.9 713.6,543.2 726.4,543.2 741.4,542.1 754.3,544.3 762.9,542.1"/>
<polyline points="906.1,520.0 902.9,524.3 898.6,532.9"/>
</g>
<g stroke="none" shape-rendering="crispEdges">
<polygon points="428.0,80.0 460.0,78.0 460.0,84.5 428.0,86.5" fill="#ff3300" stroke="#ff3300" stroke-width="0.5"/>
<polygon points="428.0,86.5 460.0,84.5 460.0,91.0 428.0,93.0" fill="#ff0000" stroke="#ff0000" stroke-width="0.5"/>
<polygon points="429.0,97.0 460.0,95.0 460.0,102.0 429.0,104.0" fill="#ff0000" stroke="#ff0000" stroke-width="0.5"/>
<polygon points="430.0,109.0 460.0,107.0 460.0,113.5 430.0,115.5" fill="#ff0000" stroke="#ff0000" stroke-width="0.5"/>
<polygon points="430.0,115.5 460.0,113.5 460.0,119.5 430.0,121.5" fill="#2200ee" stroke="#2200ee" stroke-width="0.5"/>
<polygon points="431.0,121.5 460.0,119.5 460.0,125.5 431.0,127.5" fill="#ff8000" stroke="#ff8000" stroke-width="0.5"/>
<polygon points="431.0,127.5 460.0,125.5 460.0,131.2 431.0,133.2" fill="#2200ee" stroke="#2200ee" stroke-width="0.5"/>
<polygon points="431.0,133.2 460.0,131.2 460.0,137.2 431.0,139.2" fill="#ff8000" stroke="#ff8000" stroke-width="0.5"/>
<polygon points="433.0,139.2 460.0,137.2 460.0,143.0 433.0,145.0" fill="#ff9000" stroke="#ff9000" stroke-width="0.5"/>
<polygon points="432.0,145.0 461.0,143.0 461.0,155.0 432.0,157.0" fill="#ff0000" stroke="#ff0000" stroke-width="0.5"/>
<polygon points="433.0,157.0 461.0,155.0 461.0,160.0 433.0,162.0" fill="#ff8800" stroke="#ff8800" stroke-width="0.5"/>
<polygon points="433.0,162.0 461.0,160.0 461.0,165.5 433.0,167.5" fill="#2200ee" stroke="#2200ee" stroke-width="0.5"/>
<polygon points="434.0,167.5 461.0,165.5 461.0,171.5 434.0,173.5" fill="#ff0000" stroke="#ff0000" stroke-width="0.5"/>
<polygon points="410.0,185.4 461.0,181.4 461.0,188.0 410.0,192.0" fill="#ff0000" stroke="#ff0000" stroke-width="0.5"/>
<polygon points="436.0,195.0 461.0,193.0 461.0,199.5 436.0,201.5" fill="#2200ee" stroke="#2200ee" stroke-width="0.5"/>
<polygon points="397.0,88.3 429.0,85.3 429.0,91.8 397.0,94.8" fill="#66ff00" stroke="#66ff00" stroke-width="0.5"/>
<polygon points="403.0,135.0 432.0,132.0 432.0,138.3 403.0,141.3" fill="#88ff00" stroke="#88ff00" stroke-width="0.5"/>
<polygon points="404.0,141.5 433.0,138.5 433.0,145.0 404.0,148.0" fill="#ff0000" stroke="#ff0000" stroke-width="0.5"/>
<polygon points="407.0,163.1 433.0,160.6 433.0,166.3 407.0,168.8" fill="#88ff00" stroke="#88ff00" stroke-width="0.5"/>
<polygon points="485.0,199.0 510.0,198.0 510.0,211.0 485.0,212.0" fill="#2200ee" stroke="#2200ee" stroke-width="0.5"/>
<polygon points="438.0,210.9 462.0,209.4 462.0,221.5 438.0,223.0" fill="#bbff00" stroke="#bbff00" stroke-width="0.5"/>
<polygon points="438.0,223.0 462.0,221.5 462.0,226.5 438.0,228.0" fill="#ff0000" stroke="#ff0000" stroke-width="0.5"/>
<polygon points="439.0,228.0 462.0,226.5 462.0,233.5 439.0,235.0" fill="#ff6600" stroke="#ff6600" stroke-width="0.5"/>
<polygon points="415.0,225.0 438.0,222.0 438.0,228.0 415.0,231.0" fill="#2200ee" stroke="#2200ee" stroke-width="0.5"/>
<polygon points="462.0,210.9 485.0,209.4 485.0,215.4 462.0,216.9" fill="#2200ee" stroke="#2200ee" stroke-width="0.5"/>
<polygon points="462.0,216.9 485.0,215.4 485.0,220.8 462.0,222.3" fill="#0000ff" stroke="#0000ff" stroke-width="0.5"/>
<polygon points="462.0,222.3 485.0,220.8 485.0,226.8 462.0,228.3" fill="#2200ee" stroke="#2200ee" stroke-width="0.5"/>
<polygon points="462.0,228.3 485.0,226.8 485.0,232.2 462.0,233.7" fill="#00ff80" stroke="#00ff80" stroke-width="0.5"/>
<polygon points="462.0,233.7 506.0,232.2 506.0,243.6 462.0,245.1" fill="#2200ee" stroke="#2200ee" stroke-width="0.5"/>
<polygon points="485.0,216.8 508.0,214.8 508.0,221.5 485.0,223.5" fill="#0000ff" stroke="#0000ff" stroke-width="0.5"/>
<polygon points="485.0,223.5 508.0,221.5 508.0,226.8 485.0,228.8" fill="#0a0aff" stroke="#0a0aff" stroke-width="0.5"/>
<polygon points="485.0,228.8 507.0,226.8 507.0,232.9 485.0,234.9" fill="#0066ff" stroke="#0066ff" stroke-width="0.5"/>
<polygon points="508.0,214.0 531.0,216.0 531.0,224.0 508.0,222.0" fill="#00ffbb" stroke="#00ffbb" stroke-width="0.5"/>
<polygon points="508.0,220.8 530.0,222.8 530.0,229.5 508.0,227.5" fill="#0044ff" stroke="#0044ff" stroke-width="0.5"/>
<polygon points="507.0,226.0 530.0,228.0 530.0,234.9 507.0,232.9" fill="#ff0000" stroke="#ff0000" stroke-width="0.5"/>
<polygon points="506.0,231.0 528.5,233.0 528.5,240.2 506.0,238.2" fill="#2200ee" stroke="#2200ee" stroke-width="0.5"/>
<polygon points="530.5,222.0 553.3,224.0 553.3,233.5 530.5,231.5" fill="#00ff55" stroke="#00ff55" stroke-width="0.5"/>
<polygon points="530.0,227.7 552.0,230.2 552.0,237.5 530.0,235.0" fill="#2200ee" stroke="#2200ee" stroke-width="0.5"/>
<polygon points="442.3,271.3 463.7,270.3 463.7,282.4 442.3,283.4" fill="#00ff00" stroke="#00ff00" stroke-width="0.5"/>
<polygon points="424.8,290.4 445.1,288.4 445.1,294.5 424.8,296.5" fill="#77ff00" stroke="#77ff00" stroke-width="0.5"/>
<polygon points="425.3,296.0 445.0,294.0 445.0,301.6 425.3,303.6" fill="#aaff00" stroke="#aaff00" stroke-width="0.5"/>
<polygon points="427.0,306.8 446.2,304.3 446.2,311.0 427.0,313.5" fill="#ff0000" stroke="#ff0000" stroke-width="0.5"/>
<polygon points="446.2,304.7 463.7,303.2 463.7,309.2 446.2,310.7" fill="#66ff00" stroke="#66ff00" stroke-width="0.5"/>
<polygon points="430.3,328.7 447.8,326.2 447.8,333.0 430.3,335.5" fill="#ff0000" stroke="#ff0000" stroke-width="0.5"/>
<polygon points="447.8,325.6 464.8,325.1 464.8,331.7 447.8,332.2" fill="#99ff00" stroke="#99ff00" stroke-width="0.5"/>
<polygon points="447.8,331.7 465.9,331.2 465.9,336.6 447.8,337.1" fill="#ffcc00" stroke="#ffcc00" stroke-width="0.5"/>
<polygon points="480.8,345.9 497.8,345.9 497.8,351.9 480.8,351.9" fill="#00ff00" stroke="#00ff00" stroke-width="0.5"/>
<polygon points="451.2,357.8 467.1,356.8 467.1,364.0 451.2,365.0" fill="#77ff00" stroke="#77ff00" stroke-width="0.5"/>
<polygon points="435.9,365.5 451.8,364.0 451.8,370.0 435.9,371.5" fill="#ccff00" stroke="#ccff00" stroke-width="0.5"/>
<polygon points="451.8,364.4 467.1,363.4 467.1,368.9 451.8,369.9" fill="#ffbb00" stroke="#ffbb00" stroke-width="0.5"/>
<polygon points="451.8,373.8 467.7,373.3 467.7,390.3 451.8,390.8" fill="#2200ee" stroke="#2200ee" stroke-width="0.5"/>
<polygon points="440.3,391.2 481.9,389.2 481.9,396.4 440.3,398.4" fill="#2200ee" stroke="#2200ee" stroke-width="0.5"/>
<polygon points="480.8,383.2 494.5,383.2 494.5,389.7 480.8,389.7" fill="#2200ee" stroke="#2200ee" stroke-width="0.5"/>
<polygon points="480.8,394.1 494.5,394.1 494.5,400.1 480.8,400.1" fill="#2200ee" stroke="#2200ee" stroke-width="0.5"/>
<polygon points="495.0,379.3 509.9,379.3 509.9,385.3 495.0,385.3" fill="#2200ee" stroke="#2200ee" stroke-width="0.5"/>
<polygon points="495.0,385.3 508.8,385.3 508.8,390.8 495.0,390.8" fill="#22ff00" stroke="#22ff00" stroke-width="0.5"/>
<polygon points="494.5,390.8 508.8,390.8 508.8,405.6 494.5,405.6" fill="#2200ee" stroke="#2200ee" stroke-width="0.5"/>
<polygon points="507.7,400.7 520.8,401.2 520.8,408.4 507.7,407.9" fill="#2200ee" stroke="#2200ee" stroke-width="0.5"/>
<polygon points="522.0,277.0 542.0,278.0 542.0,284.0 522.0,283.0" fill="#44ff00" stroke="#44ff00" stroke-width="0.5"/>
<line x1="249.5" y1="301" x2="269" y2="290.5" stroke="#00ff00" stroke-width="6"/>
<line x1="320.5" y1="374.5" x2="335.5" y2="366.5" stroke="#2200ee" stroke-width="5.5"/>
<line x1="351" y1="358" x2="366" y2="352" stroke="#ff4400" stroke-width="5.5"/>
<line x1="352.5" y1="362.5" x2="368" y2="357" stroke="#ff0000" stroke-width="5.5"/>
<line x1="357" y1="372.5" x2="373" y2="366.5" stroke="#ff0000" stroke-width="6"/>
<line x1="363.4" y1="445" x2="374.4" y2="440.1" stroke="#ff0000" stroke-width="7"/>
<line x1="370.1" y1="478.5" x2="380.5" y2="474.2" stroke="#ff8800" stroke-width="7"/>
<polygon points="460.9,453.5 471.8,453.5 471.8,459.6 460.9,459.6" fill="#44ff00" stroke="#44ff00" stroke-width="0.5"/>
<polygon points="462.7,470.0 473.0,470.0 473.0,476.0 462.7,476.0" fill="#00ff22" stroke="#00ff22" stroke-width="0.5"/>
<polygon points="448.0,488.7 457.8,488.2 457.8,494.3 448.0,494.8" fill="#22ff00" stroke="#22ff00" stroke-width="0.5"/>
<line x1="433.8" y1="501.5" x2="443" y2="499" stroke="#44ff00" stroke-width="6.5"/>
<line x1="398" y1="520" x2="406" y2="516" stroke="#ff0000" stroke-width="7"/>
<line x1="398" y1="534" x2="406" y2="530" stroke="#ff0000" stroke-width="7"/>
<line x1="447.5" y1="521" x2="455.5" y2="519" stroke="#aaff00" stroke-width="7"/>
<polygon points="468.2,513.2 475.9,513.2 475.9,519.7 468.2,519.7" fill="#ffcc00" stroke="#ffcc00" stroke-width="0.5"/>
<line x1="432.5" y1="538" x2="440.5" y2="536" stroke="#00ff22" stroke-width="7.5"/>
<polygon points="469.9,529.6 477.0,529.6 477.0,535.6 469.9,535.6" fill="#ff3300" stroke="#ff3300" stroke-width="0.5"/>
<polygon points="471.5,541.1 477.5,541.1 477.5,546.3 471.5,546.3" fill="#2200ee" stroke="#2200ee" stroke-width="0.5"/>
<polygon points="472.0,546.3 477.5,546.3 477.5,551.5 472.0,551.5" fill="#22ff00" stroke="#22ff00" stroke-width="0.5"/>
<line x1="435.8" y1="566.5" x2="441.5" y2="564" stroke="#ff6600" stroke-width="5.5"/>
<line x1="486.5" y1="566" x2="488" y2="577" stroke="#2200ee" stroke-width="4.5"/>
<polygon points="471.5,622.1 478.3,618.9 477.5,613.0 477.1,594.4 480.6,594.0 481.4,600.3 483.4,606.3 483.0,616.2 485.4,618.2 486.2,606.7 489.3,606.3 490.9,609.8 494.1,606.7 493.3,601.9 496.5,598.8 495.7,586.1 499.6,584.9 503.6,587.7 500.4,598.0 499.6,605.1 499.6,611.4 497.3,615.4 495.7,619.3 500.4,619.3 513.1,607.5 515.0,606.7 515.0,609.8 502.0,620.9 503.6,624.1 499.6,628.8 496.5,632.0 492.5,631.2 489.3,627.3 485.4,624.9 478.3,625.7 475.1,628.0 471.1,624.1" fill="#2200ee" stroke="#2200ee" stroke-width="0.5"/>
<line x1="453.7" y1="584.5" x2="463.2" y2="598.8" stroke="#2200ee" stroke-width="3.6"/>
<polygon points="473.1,594.8 476.7,594.8 476.7,600.3 473.1,600.3" fill="#2200ee" stroke="#2200ee" stroke-width="0.5"/>
<line x1="463.2" y1="612.2" x2="470.3" y2="623.3" stroke="#2200ee" stroke-width="3.5"/>
<line x1="458.2" y1="609.5" x2="462" y2="614.2" stroke="#ff0000" stroke-width="3.2"/>
<line x1="465.8" y1="619.5" x2="469.2" y2="623.5" stroke="#22ff00" stroke-width="3"/>
<polygon points="482.2,588.0 485.0,588.3 486.2,590.5 486.0,593.5 484.0,594.8 482.2,594.8" fill="#ff0000" stroke="#ff0000" stroke-width="0.5"/>
<line x1="497.5" y1="597.5" x2="497.8" y2="603.2" stroke="#ff0000" stroke-width="3.5"/>
<line x1="496" y1="616.5" x2="500" y2="612" stroke="#44ff00" stroke-width="3"/>
<line x1="499" y1="617" x2="503" y2="612.5" stroke="#ff0000" stroke-width="3"/>
<line x1="505.8" y1="601.8" x2="510.9" y2="596.8" stroke="#22ff00" stroke-width="4.5"/>
<line x1="494" y1="637" x2="506" y2="634" stroke="#2200ee" stroke-width="2.5"/>
<polygon points="512.7,632.8 515.0,632.8 515.0,636.0 512.7,636.0" fill="#ff0000" stroke="#ff0000" stroke-width="0.5"/>
<polygon points="485.0,575.0 489.7,575.0 489.7,577.8 485.0,577.8" fill="#2200ee" stroke="#2200ee" stroke-width="0.5"/>
<polygon points="545.0,576.6 548.8,580.4 545.0,584.2 541.2,580.4" fill="#ff0000" stroke="#ff0000" stroke-width="0.5"/>
<line x1="505.8" y1="601.5" x2="511.2" y2="597" stroke="#22ff00" stroke-width="5.5"/>
<line x1="514.5" y1="607.8" x2="519.5" y2="604" stroke="#22ff00" stroke-width="5.5"/>
<line x1="500" y1="620" x2="514.5" y2="607.6" stroke="#2200ee" stroke-width="3.5"/>
<line x1="522.5" y1="612.2" x2="528.8" y2="607.6" stroke="#2200ee" stroke-width="5.5"/>
<line x1="515.3" y1="620.8" x2="521.4" y2="617.8" stroke="#0066ff" stroke-width="4.5"/>
<line x1="527.4" y1="621.6" x2="533.6" y2="618.8" stroke="#2200ee" stroke-width="5"/>
<line x1="540" y1="624.5" x2="546" y2="622" stroke="#2200ee" stroke-width="5"/>
<polygon points="518.1,628.5 520.0,627.3 523.5,627.3 524.9,630.0 524.9,634.6 518.1,634.6" fill="#2200ee" stroke="#2200ee" stroke-width="0.5"/>
<polygon points="512.9,632.5 518.6,632.5 518.6,635.6 512.9,635.6" fill="#ff0000" stroke="#ff0000" stroke-width="0.5"/>
<polygon points="515.0,558.0 520.7,558.0 520.7,562.6 515.0,562.6" fill="#2200ee" stroke="#2200ee" stroke-width="0.5"/>
<line x1="577.1" y1="304.3" x2="595.7" y2="308.6" stroke="#ff0000" stroke-width="6.4"/>
<line x1="601.4" y1="329.3" x2="617.9" y2="335" stroke="#ff0000" stroke-width="6.5"/>
<line x1="617.9" y1="335" x2="634.3" y2="341.4" stroke="#2200ee" stroke-width="6.5"/>
<line x1="635.7" y1="339.3" x2="653.6" y2="345.7" stroke="#ff0000" stroke-width="6.5"/>
<line x1="612.9" y1="345.7" x2="630" y2="352.1" stroke="#0040ff" stroke-width="6.5"/>
<line x1="631.4" y1="349.3" x2="647.9" y2="355" stroke="#00bbff" stroke-width="6"/>
<line x1="629.3" y1="355" x2="645.7" y2="360.7" stroke="#00ffee" stroke-width="6"/>
<line x1="588.6" y1="365" x2="603.6" y2="369.3" stroke="#2200ee" stroke-width="6"/>
<line x1="583.6" y1="380" x2="597.1" y2="384.3" stroke="#ff0000" stroke-width="6"/>
<polygon points="613.8,384.0 628.1,391.6 625.6,396.8 611.0,388.3" fill="#2200ee" stroke="#2200ee" stroke-width="0.5"/>
<line x1="674.3" y1="347.9" x2="690.7" y2="356.4" stroke="#0066ff" stroke-width="6.5"/>
<line x1="671.4" y1="353.6" x2="687.1" y2="361.4" stroke="#ff6600" stroke-width="6.5"/>
<line x1="680" y1="338.6" x2="697" y2="349.5" stroke="#0000ff" stroke-width="7"/>
<line x1="697" y1="349.5" x2="712.9" y2="360" stroke="#2200dd" stroke-width="7"/>
<line x1="667.9" y1="389.3" x2="682.1" y2="398.6" stroke="#2200ee" stroke-width="7"/>
<line x1="628.6" y1="245.7" x2="650" y2="253.2" stroke="#ff0000" stroke-width="6"/>
<line x1="677.9" y1="247.9" x2="699.3" y2="258.6" stroke="#ff0000" stroke-width="6"/>
<line x1="624.7" y1="161.4" x2="651.8" y2="168.7" stroke="#2200ee" stroke-width="6.5"/>
<line x1="699" y1="141" x2="723" y2="152" stroke="#ffa000" stroke-width="6"/>
<line x1="774.6" y1="233.2" x2="795.8" y2="250" stroke="#ff0000" stroke-width="5.8"/>
<line x1="871.1" y1="252.9" x2="890.1" y2="274.1" stroke="#ff6600" stroke-width="6"/>
<line x1="891.6" y1="274.8" x2="911.3" y2="297.5" stroke="#ff0000" stroke-width="6"/>
<line x1="850.6" y1="274.1" x2="870.4" y2="294.6" stroke="#ff4400" stroke-width="6"/>
<line x1="834.6" y1="291.6" x2="853.6" y2="309.9" stroke="#2200ee" stroke-width="6"/>
<line x1="808.2" y1="320.1" x2="825.1" y2="337" stroke="#ff0000" stroke-width="5.5"/>
<line x1="803.1" y1="324.5" x2="820" y2="340" stroke="#77ff00" stroke-width="5.5"/>
<line x1="833.7" y1="423.6" x2="844.9" y2="442.9" stroke="#2200ee" stroke-width="6.4"/>
<line x1="889.9" y1="418" x2="902" y2="440.4" stroke="#ffa000" stroke-width="6"/>
<line x1="938.1" y1="422.8" x2="951" y2="447.7" stroke="#ff8c00" stroke-width="6.5"/>
<line x1="975.9" y1="368.1" x2="991.2" y2="395.4" stroke="#99ff00" stroke-width="6.5"/>
<polygon points="947.5,536.4 953.8,535.1 959.4,561.7 953.0,562.5" fill="#ff0000" stroke="#ff0000" stroke-width="0.5"/>
<polygon points="1043.2,581.5 1055.1,580.7 1059.1,614.0 1046.4,614.0" fill="#2200ee" stroke="#2200ee" stroke-width="0.5"/>
<polygon points="863.3,486.1 868.5,483.1 876.5,504.3 871.4,506.5" fill="#ff0000" stroke="#ff0000" stroke-width="0.5"/>
<polygon points="871.4,506.5 876.5,504.3 884.0,526.0 879.0,528.0" fill="#2200ee" stroke="#2200ee" stroke-width="0.5"/>
<line x1="666.6" y1="390.4" x2="682.7" y2="400.2" stroke="#2200ee" stroke-width="5"/>
<polygon points="643.4,395.7 653.2,402.9 681.8,426.1 674.6,432.3 651.4,413.6 640.7,400.2" fill="#2200ee" stroke="#2200ee" stroke-width="0.5"/>
<polygon points="681.8,425.2 693.4,435.0 688.9,439.5 677.3,430.5" fill="#ffff00" stroke="#ffff00" stroke-width="0.5"/>
<polygon points="674.6,452.9 712.1,417.1 725.5,430.5 683.6,465.4" fill="#2200ee" stroke="#2200ee" stroke-width="0.5"/>
<polygon points="712.1,417.1 721.1,409.1 733.6,422.5 725.5,430.5" fill="#ff0000" stroke="#ff0000" stroke-width="0.5"/>
<polygon points="721.1,409.1 724.6,405.5 737.1,418.9 733.6,422.5" fill="#2200ee" stroke="#2200ee" stroke-width="0.5"/>
<polygon points="724.6,405.5 728.2,402.0 740.7,415.4 737.1,418.9" fill="#ff0000" stroke="#ff0000" stroke-width="0.5"/>
<polygon points="731.8,397.5 735.3,394.0 749.6,407.8 746.1,411.8" fill="#22ff00" stroke="#22ff00" stroke-width="0.5"/>
<polygon points="735.3,394.0 738.9,390.4 753.2,403.8 749.6,407.8" fill="#77ff00" stroke="#77ff00" stroke-width="0.5"/>
<polygon points="747.0,381.4 751.4,377.9 765.7,393.0 761.3,396.6" fill="#ff5500" stroke="#ff5500" stroke-width="0.5"/>
<polygon points="755.0,374.3 760.4,369.8 774.6,385.0 769.3,389.5" fill="#77ff00" stroke="#77ff00" stroke-width="0.5"/>
<polygon points="759.5,369.8 763.0,366.3 777.3,381.4 774.6,385.0" fill="#ff0000" stroke="#ff0000" stroke-width="0.5"/>
<polygon points="765.7,393.9 785.4,375.2 813.0,408.2 791.6,425.2" fill="#2200ee" stroke="#2200ee" stroke-width="0.5"/>
<polygon points="796.0,395.7 801.4,392.1 813.9,407.3 808.6,412.7" fill="#0055ff" stroke="#0055ff" stroke-width="0.5"/>
<polygon points="749.6,431.4 755.0,428.8 763.9,443.9 759.5,447.5" fill="#2200ee" stroke="#2200ee" stroke-width="0.5"/>
<polygon points="662.7,466.8 668.0,462.3 676.1,472.1 671.6,476.6" fill="#ffaa00" stroke="#ffaa00" stroke-width="0.5"/>
<polygon points="693.0,477.5 706.4,466.8 715.4,478.4 702.0,488.2" fill="#2200ee" stroke="#2200ee" stroke-width="0.5"/>
<polygon points="710.0,463.2 723.4,453.4 733.2,465.9 719.8,475.7" fill="#2200ee" stroke="#2200ee" stroke-width="0.5"/>
<polygon points="715.4,478.4 721.6,475.7 728.8,488.2 722.5,491.8" fill="#2200ee" stroke="#2200ee" stroke-width="0.5"/>
<polygon points="710.0,500.7 732.3,487.3 742.1,500.7 722.5,511.4 728.8,523.9 723.4,526.6 717.1,515.0" fill="#2200ee" stroke="#2200ee" stroke-width="0.5"/>
<polygon points="696.6,508.8 702.0,506.1 708.2,518.6 702.9,521.3" fill="#2200ee" stroke="#2200ee" stroke-width="0.5"/>
<polygon points="686.8,515.0 692.1,512.3 698.4,523.9 693.0,527.1" fill="#ff0000" stroke="#ff0000" stroke-width="0.5"/>
<polygon points="738.6,519.5 743.9,516.8 750.2,532.0 745.7,533.8" fill="#2200ee" stroke="#2200ee" stroke-width="0.5"/>
<polygon points="747.5,477.5 752.0,474.8 760.0,490.9 754.6,493.6" fill="#2200ee" stroke="#2200ee" stroke-width="0.5"/>
<polygon points="756.4,473.0 774.3,460.5 783.2,473.0 788.6,474.8 804.6,506.1 795.7,512.3 787.7,498.0 768.9,504.3 760.9,489.1" fill="#2200ee" stroke="#2200ee" stroke-width="0.5"/>
<polygon points="763.6,507.9 768.9,505.2 776.1,521.3 770.7,523.9" fill="#ffff00" stroke="#ffff00" stroke-width="0.5"/>
<polygon points="780.0,469.2 788.8,474.4 806.3,507.3 797.5,512.4 788.8,498.5 780.0,500.0" fill="#2200ee" stroke="#2200ee" stroke-width="0.5"/>
<polygon points="808.3,486.1 813.4,483.9 835.3,537.3 816.3,546.0 806.1,508.0 815.6,504.4" fill="#2200ee" stroke="#2200ee" stroke-width="0.5"/>
<polygon points="751.4,548.1 761.5,544.8 765.5,560.2 762.2,562.2 766.2,579.0 768.9,592.3 772.9,592.3 770.2,576.3 791.0,571.6 789.0,561.5 782.3,537.4 792.3,534.1 799.7,550.1 803.0,549.5 797.7,532.1 807.7,528.7 817.8,584.3 813.1,585.6 815.1,604.4 803.7,606.4 805.7,623.2 799.0,623.8 797.0,607.1 793.0,607.8 793.6,623.2 788.3,623.8 786.3,607.8 782.3,608.4 782.9,624.5 760.8,625.8 754.1,580.3 758.1,578.9" fill="#2200ee" stroke="#2200ee" stroke-width="0.5"/>
<polygon points="814.1,546.0 820.7,544.6 824.4,563.6 819.2,565.8" fill="#2200ee" stroke="#2200ee" stroke-width="0.5"/>
<polygon points="825.1,543.1 832.4,541.6 835.3,561.4 829.5,562.8" fill="#2200ee" stroke="#2200ee" stroke-width="0.5"/>
<polygon points="833.9,540.2 841.2,538.7 846.0,558.0 839.0,560.0" fill="#2200ee" stroke="#2200ee" stroke-width="0.5"/>
<polygon points="839.0,560.0 846.0,558.0 850.7,576.7 844.8,579.6" fill="#0a1aff" stroke="#0a1aff" stroke-width="0.5"/>
<polygon points="626.3,422.1 638.7,430.5 635.1,434.8 623.0,426.4" fill="#00ff33" stroke="#00ff33" stroke-width="0.5"/>
<polygon points="620.8,431.2 642.7,447.6 639.1,452.0 617.2,435.6" fill="#2200ee" stroke="#2200ee" stroke-width="0.5"/>
<polygon points="609.5,393.1 622.9,400.5 617.7,410.5 604.0,402.9" fill="#2200ee" stroke="#2200ee" stroke-width="0.5"/>
<line x1="573" y1="410" x2="586" y2="415" stroke="#2200ee" stroke-width="6.5"/>
<line x1="531" y1="418" x2="542" y2="422" stroke="#aaff00" stroke-width="6.5"/>
<line x1="547" y1="445.5" x2="558" y2="449" stroke="#ff0000" stroke-width="6.5"/>
<line x1="563.5" y1="481.5" x2="573" y2="486" stroke="#2200ee" stroke-width="7"/>
<polygon points="536.0,526.0 544.0,527.5 544.8,534.7 536.5,533.0" fill="#00ff22" stroke="#00ff22" stroke-width="0.5"/>
<polygon points="627.4,499.0 634.7,507.7 631.0,511.5 623.7,502.5" fill="#ff0000" stroke="#ff0000" stroke-width="0.5"/>
<polygon points="623.7,502.5 631.0,511.5 626.7,515.0 620.1,506.3" fill="#2200ee" stroke="#2200ee" stroke-width="0.5"/>
<polygon points="604.5,521.6 611.3,528.8 606.0,532.5 600.0,525.5" fill="#ff0000" stroke="#ff0000" stroke-width="0.5"/>
<polygon points="587.4,537.0 593.8,542.6 581.8,552.5 575.5,546.5" fill="#2200ee" stroke="#2200ee" stroke-width="0.5"/>
<polygon points="575.5,546.5 581.8,552.5 577.5,556.5 572.0,550.0" fill="#ff7700" stroke="#ff7700" stroke-width="0.5"/>
<line x1="514" y1="443.5" x2="524.5" y2="445" stroke="#ff0000" stroke-width="6.5"/>
</g>
<g fill="none" stroke="#6a6a6a" stroke-width="1" shape-rendering="crispEdges">
<polyline points="103.0,205.0 112.2,199.5 120.7,193.0 129.3,186.8 138.1,180.7 146.9,174.7 155.8,168.9 164.9,163.3 174.0,157.9 183.3,152.6 192.6,147.4 202.0,142.5 211.6,137.7 221.2,133.1 230.9,128.6 240.6,124.4 250.5,120.3 260.4,116.4 270.3,112.7 280.4,109.1 290.5,105.8 300.7,102.6 310.9,99.6 321.2,96.8 331.5,94.1 341.9,91.7 352.3,89.5 362.7,87.4 373.2,85.5 383.7,83.8 394.3,82.3 404.9,81.0 415.5,79.9 426.1,79.0 436.7,78.3 447.3,77.8 458.0,77.4 468.6,77.3 479.3,77.3 489.9,77.6 500.6,78.0 511.2,78.6 521.8,79.4 532.4,80.4 543.0,81.6 553.6,83.0 564.1,84.6 574.6,86.4 585.1,88.3 595.5,90.5 605.9,92.8 616.3,95.3 626.6,98.0 636.8,100.9 647.0,104.0 657.2,107.3 667.3,110.7 677.3,114.4 687.2,118.2 697.1,122.2 706.9,126.3 716.6,130.7 726.3,135.2 735.8,139.9 745.3,144.7 754.7,149.8 764.0,155.0 773.2,160.4 782.3,165.9 791.3,171.6 800.2,177.5 809.0,183.5 817.7,189.7 826.2,196.0 834.7,202.5 843.0,209.1 851.2,215.9 859.3,222.8 867.3,229.9 875.1,237.2 882.8,244.5 890.3,252.0 897.8,259.7 905.1,267.4 912.2,275.3 919.2,283.4 926.1,291.5 932.8,299.8 939.3,308.2 945.7,316.7 952.0,325.3 958.1,334.1 964.0,342.9 969.8,351.9 975.4,360.9 980.8,370.1 986.1,379.4 991.2,388.7 996.1,398.1 1000.9,407.7 1005.5,417.3 1009.9,427.0 1014.1,436.8 1018.2,446.6 1022.1,456.5 1025.8,466.5 1029.3,476.6 1032.7,486.7 1035.8,496.8 1038.8,507.1 1041.6,517.4 1044.2,527.7 1046.6,538.1 1048.9,548.5 1050.9,558.9 1052.7,569.4 1054.4,579.9 1055.9,590.5 1057.2,601.1 1058.2,611.7"/>
<polyline points="103.0,205.0 472.8,629.7"/>
<polyline points="1057.5,614.3 1043.0,614.6 1028.6,614.9 1014.1,615.2 999.6,615.5 985.1,615.9 970.7,616.3 956.2,616.7 941.7,617.1 927.3,617.5 912.8,618.0 898.3,618.4 883.8,618.9 869.4,619.4 854.9,620.0 840.4,620.5 826.0,621.1 811.5,621.6 797.0,622.2 782.6,622.8 768.1,623.5 753.7,624.1 739.2,624.8 724.7,625.5 710.3,626.2 695.8,626.9 681.4,627.6 666.9,628.4 652.4,629.2 638.0,629.9 623.5,630.8 609.1,631.6 594.6,632.4 580.2,633.3 565.7,634.2 551.3,635.1 536.8,636.0 522.4,636.9 507.9,637.9 493.5,638.8 492.9,639.0 492.9,629.7"/>
<polyline points="472.6,630.3 478.0,626.0 484.9,618.7 490.0,610.0 495.9,600.2 501.7,584.4 507.6,572.7 510.0,561.0 510.9,551.0 516.0,539.7 521.0,528.3 526.0,517.0 530.9,505.7 535.8,494.3 540.6,483.0 545.3,471.7 550.0,460.3 554.6,449.0 559.2,437.7 563.7,426.3 568.1,415.0 572.5,403.7 576.9,392.3 581.1,381.0 585.3,369.7 589.5,358.3 593.6,347.0 597.6,335.7 601.6,324.3 605.5,313.0 609.3,301.7 613.1,290.3 616.9,279.0 620.6,267.7 624.2,256.3 627.7,245.0 631.2,233.7 634.7,222.3 638.1,211.0 641.4,199.7 644.6,188.3 647.8,177.0 651.0,165.7 654.1,154.3 657.1,143.0 660.1,131.7 663.0,120.3 665.8,109.0"/>
<polyline points="492.9,629.7 493.3,621.7 499.5,603.0 505.0,594.0 509.5,581.0 513.4,572.7 522.6,557.1 527.8,545.0 532.3,534.6 536.9,524.2 541.5,513.8 546.1,503.4 550.8,492.9 555.5,482.5 560.3,472.1 565.1,461.7 570.0,451.3 574.8,440.9 579.8,430.5 584.8,420.1 589.8,409.7 594.8,399.3 599.9,388.8 605.1,378.4 610.3,368.0 615.5,357.6 620.8,347.2 626.1,336.8 631.4,326.4 636.8,316.0 642.3,305.6 647.8,295.2 653.3,284.7 658.9,274.3 664.5,263.9 670.1,253.5 675.8,243.1 681.5,232.7 687.3,222.3 693.1,211.9 699.0,201.5 704.9,191.1 710.8,180.6 716.8,170.2 722.8,159.8 728.9,149.4 735.0,139.0"/>
</g>
<circle cx="482.9" cy="633.4" r="2.8" fill="#666"/>
<g font-size="13" fill="#000"><text x="452" y="657.5" textLength="23" lengthAdjust="spacingAndGlyphs">cvw</text><text x="491.6" y="657.5" textLength="20.7" lengthAdjust="spacingAndGlyphs">cve</text></g>
<g fill="#000" font-size="19">
<text x="6.9" y="25.6" textLength="129.3" lengthAdjust="spacingAndGlyphs">March, 10 2012</text>
<text x="6.9" y="41.3" textLength="96.8" lengthAdjust="spacingAndGlyphs">0002:00 UT</text>
</g>
<g fill="#000" font-size="18.2">
<text x="1034" y="11.9" textLength="64.7" lengthAdjust="spacingAndGlyphs">Spectral</text>
<text x="1022" y="26.6" textLength="89" lengthAdjust="spacingAndGlyphs">Width (m/s)</text>
</g>
<defs><linearGradient id="cb" x1="0" y1="1" x2="0" y2="0"><stop offset="0" stop-color="#0000ff"/><stop offset="0.198" stop-color="#00a0ff"/><stop offset="0.202" stop-color="#00ffff"/><stop offset="0.398" stop-color="#00ff80"/><stop offset="0.402" stop-color="#00ff40"/><stop offset="0.48" stop-color="#00ff00"/><stop offset="0.598" stop-color="#b0ff00"/><stop offset="0.602" stop-color="#d8ff00"/><stop offset="0.66" stop-color="#ffff00"/><stop offset="0.798" stop-color="#ff8800"/><stop offset="0.802" stop-color="#ff5500"/><stop offset="0.94" stop-color="#ff0000"/><stop offset="1" stop-color="#ff0000"/></linearGradient></defs>
<rect x="1057.5" y="54" width="17" height="136.5" fill="url(#cb)" stroke="#000" stroke-width="1"/>
<g stroke="#000" stroke-width="1">
<line x1="1057.5" y1="81.3" x2="1074.5" y2="81.3"/>
<line x1="1057.5" y1="108.6" x2="1074.5" y2="108.6"/>
<line x1="1057.5" y1="135.9" x2="1074.5" y2="135.9"/>
<line x1="1057.5" y1="163.2" x2="1074.5" y2="163.2"/>
</g>
<g fill="#000" font-size="13.6" text-anchor="end">
<text x="1049.5" y="54.4">500</text>
<text x="1049.5" y="81.9">400</text>
<text x="1049.5" y="108.4">300</text>
<text x="1049.5" y="135.9">200</text>
<text x="1049.5" y="162.4">100</text>
<text x="1049.5" y="189.4">0</text>
</g>
<g fill="#000">
<text x="112" y="574.7" font-size="19.2" textLength="87" lengthAdjust="spacingAndGlyphs">Frequency</text>
<text x="114" y="593.5" font-size="17" textLength="30" lengthAdjust="spacingAndGlyphs">cvw</text>
<text x="167.5" y="593.5" font-size="17" textLength="26" lengthAdjust="spacingAndGlyphs">cve</text>
</g>
<g fill="none" stroke="#000" stroke-width="1">
<rect x="120.6" y="599.6" width="17.4" height="169.6"/>
<rect x="172.5" y="599.6" width="17.4" height="169.6"/>
<line x1="120.6" y1="616.6" x2="138" y2="616.6"/><line x1="172.5" y1="616.6" x2="189.9" y2="616.6"/>
<line x1="120.6" y1="633.5" x2="138" y2="633.5"/><line x1="172.5" y1="633.5" x2="189.9" y2="633.5"/>
<line x1="120.6" y1="650.5" x2="138" y2="650.5"/><line x1="172.5" y1="650.5" x2="189.9" y2="650.5"/>
<line x1="120.6" y1="667.4" x2="138" y2="667.4"/><line x1="172.5" y1="667.4" x2="189.9" y2="667.4"/>
<line x1="120.6" y1="684.4" x2="138" y2="684.4"/><line x1="172.5" y1="684.4" x2="189.9" y2="684.4"/>
<line x1="120.6" y1="701.4" x2="138" y2="701.4"/><line x1="172.5" y1="701.4" x2="189.9" y2="701.4"/>
<line x1="120.6" y1="718.3" x2="138" y2="718.3"/><line x1="172.5" y1="718.3" x2="189.9" y2="718.3"/>
<line x1="120.6" y1="735.3" x2="138" y2="735.3"/><line x1="172.5" y1="735.3" x2="189.9" y2="735.3"/>
<line x1="120.6" y1="752.2" x2="138" y2="752.2"/><line x1="172.5" y1="752.2" x2="189.9" y2="752.2"/>
</g>
<g stroke="#ff4000" stroke-width="3"><line x1="117.8" y1="655.4" x2="140.8" y2="655.4"/><line x1="169.7" y1="654.3" x2="193" y2="654.3"/></g>
<g fill="#000" font-size="12.5">
<text x="112.8" y="605.6" text-anchor="end">18</text><text x="199" y="605.6">18</text>
<text x="112.8" y="622.6" text-anchor="end">17</text><text x="199" y="622.6">17</text>
<text x="112.8" y="639.5" text-anchor="end">16</text><text x="199" y="639.5">16</text>
<text x="112.8" y="656.5" text-anchor="end">15</text><text x="199" y="656.5">15</text>
<text x="112.8" y="673.4" text-anchor="end">14</text><text x="199" y="673.4">14</text>
<text x="112.8" y="690.4" text-anchor="end">13</text><text x="199" y="690.4">13</text>
<text x="112.8" y="707.4" text-anchor="end">12</text><text x="199" y="707.4">12</text>
<text x="112.8" y="724.3" text-anchor="end">11</text><text x="199" y="724.3">11</text>
<text x="112.8" y="741.3" text-anchor="end">10</text><text x="199" y="741.3">10</text>
<text x="112.8" y="758.2" text-anchor="end">9</text><text x="199" y="758.2">9</text>
<text x="112.8" y="775.2" text-anchor="end">8</text><text x="199" y="775.2">8</text>
</g>
</svg>
</body></html>
